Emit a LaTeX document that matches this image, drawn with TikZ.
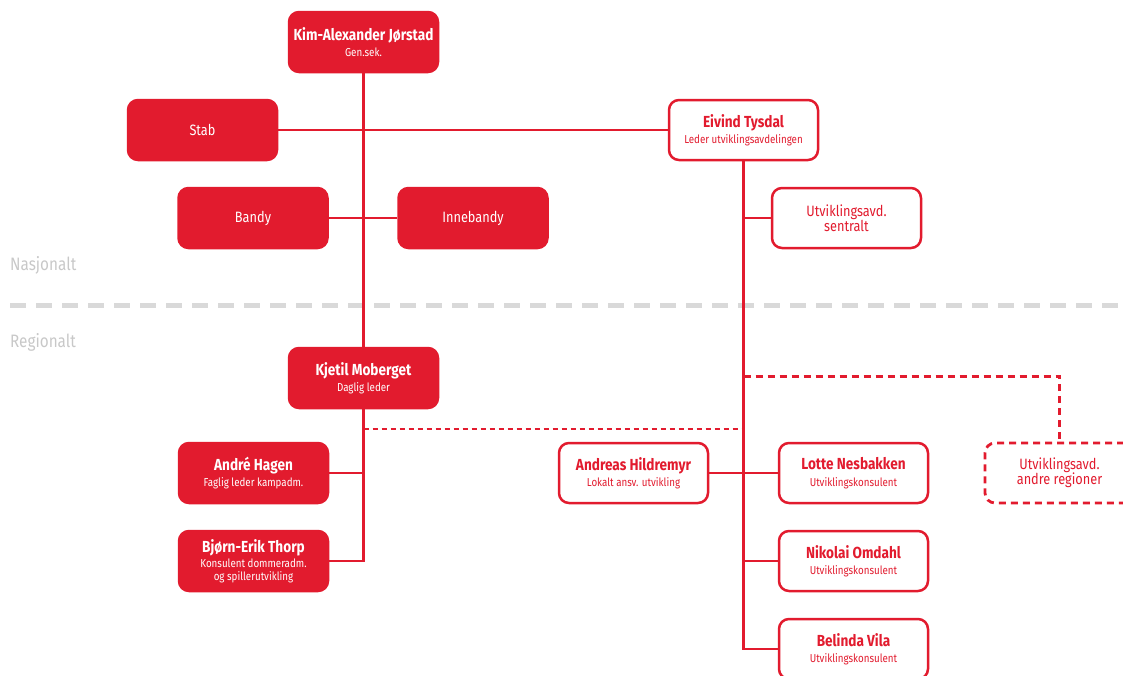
\documentclass[tikz,border=0pt]{standalone}
\usepackage{fontspec}
\setmainfont{Fira Sans}[FakeStretch=0.85]
\definecolor{nifred}{RGB}{226,27,46}
\definecolor{lblgray}{RGB}{200,200,200}
\definecolor{dashgray}{RGB}{217,217,217}
\begin{document}
\begin{tikzpicture}[x=1pt,y=-1pt,
  box/.style={rounded corners=10pt, minimum width=149pt, minimum height=60pt, align=center, inner sep=2pt, line width=2.5pt, font=\fontsize{11.5}{13.5}\selectfont},
  filledbox/.style={box, fill=nifred, draw=nifred, text=white},
  openbox/.style={box, fill=white, draw=nifred, text=nifred},
  big/.style={font=\fontsize{15}{15}\selectfont},
  dashbox/.style={box, fill=white, draw=nifred, text=nifred, dash pattern=on 7pt off 5pt, line width=2.8pt},
  conn/.style={draw=nifred, line width=2.4pt},
  thindash/.style={draw=nifred, line width=2pt, dash pattern=on 5pt off 4pt},
  thickdash/.style={draw=nifred, line width=2.8pt, dash pattern=on 7pt off 5pt},
  lvl/.style={anchor=west, inner sep=0pt, text=lblgray, font=\fontsize{18}{20}\selectfont},
]
\newcommand{\nm}[1]{{\bfseries\fontsize{16}{18}\selectfont #1}}
\useasboundingbox (0,0) rectangle (1123,675);

\node[filledbox] (kim) at (363.5,42) {\nm{Kim-Alexander Jørstad}\\[3pt]Gen.sek.};
\node[filledbox, big] (stab) at (202.5,130) {Stab};
\node[openbox] (eivind) at (743.5,130) {\nm{Eivind Tysdal}\\[3pt]Leder utviklingsavdelingen};
\node[filledbox, big] (bandy) at (253,218) {Bandy};
\node[filledbox, big] (inne) at (473,218) {Innebandy};
\node[openbox, big] (sentralt) at (846.5,218) {Utviklingsavd.\\sentralt};
\node[filledbox] (kjetil) at (363.5,378) {\nm{Kjetil Moberget}\\[3pt]Daglig leder};
\node[filledbox] (andre) at (253.5,473) {\nm{André Hagen}\\[3pt]Faglig leder kampadm.};
\node[filledbox] (bjorn) at (253.5,561) {\nm{Bjørn-Erik Thorp}\\[2pt]Konsulent dommeradm.\\[-1pt]og spillerutvikling};
\node[openbox] (andreas) at (633.5,473) {\nm{Andreas Hildremyr}\\[3pt]Lokalt ansv. utvikling};
\node[openbox] (lotte) at (853.5,473) {\nm{Lotte Nesbakken}\\[3pt]Utviklingskonsulent};
\node[openbox] (nikolai) at (853.5,561) {\nm{Nikolai Omdahl}\\[3pt]Utviklingskonsulent};
\node[openbox] (belinda) at (853.5,649) {\nm{Belinda Vila}\\[3pt]Utviklingskonsulent};
\node[dashbox, big] (regioner) at (1059.5,473) {Utviklingsavd.\\andre regioner};

\node[lvl] (nasj) at (10,265) {Nasjonalt};
\node[lvl] (reg) at (10,342) {Regionalt};

\coordinate (gl) at (10,305);
\coordinate (gr) at (1118,305);
\draw[dashgray, line width=5pt, dash pattern=on 16pt off 10pt] (gl) -- (gr);

% solid connectors
\draw[conn] (kim.south) -- (kjetil.north);
\draw[conn] (kjetil.south) -- (kjetil.south |- bjorn.east) -- (bjorn.east);
\draw[conn] (andre.east) -- (kjetil.south |- andre.east);
\draw[conn] (stab.east) -- (eivind.west);
\draw[conn] (bandy.east) -- (inne.west);
\draw[conn] (eivind.south) -- (eivind.south |- belinda.west) -- (belinda.west);
\draw[conn] (eivind.south |- sentralt.west) -- (sentralt.west);
\draw[conn] (andreas.east) -- (lotte.west);
\draw[conn] (eivind.south |- nikolai.west) -- (nikolai.west);

% dashed connectors
\coordinate (da) at ([yshift=-20pt]kjetil.south);
\draw[thindash] (da) -- (da -| eivind.south);
\coordinate (db) at ([yshift=-215pt]eivind.south);
\draw[thickdash] (db) -- (db -| regioner.north) -- (regioner.north);
\end{tikzpicture}
\end{document}
